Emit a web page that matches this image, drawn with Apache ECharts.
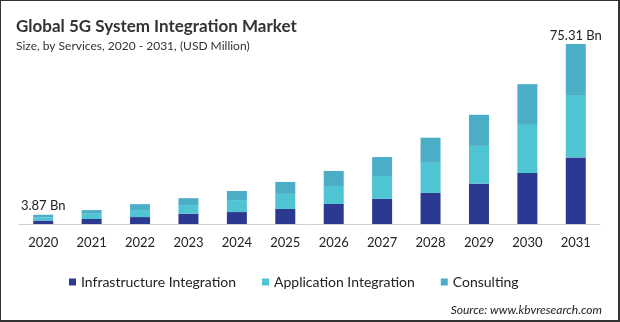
<!DOCTYPE html>
<html>
<head>
<meta charset="utf-8">
<script src="https://cdn.jsdelivr.net/npm/echarts@6/dist/echarts.min.js"></script>
<style>
html,body{margin:0;padding:0;background:#fff;}
#chart{width:620px;height:322px;}
</style>
</head>
<body>
<div id="chart"></div>
<script>
const years = ['2020','2021','2022','2023','2024','2025','2026','2027','2028','2029','2030','2031'];
const infrastructure = [1.45, 2.1, 2.9, 4.3, 5.0, 6.3, 8.4, 10.5, 13.0, 16.9, 21.3, 27.8];
const application   = [1.33, 2.2, 2.9, 3.6, 5.0, 6.3, 7.5, 9.6, 12.6, 15.8, 20.5, 26.2];
const consulting    = [1.09, 1.5, 2.5, 2.9, 3.8, 5.0, 6.3, 7.9, 10.5, 13.0, 16.7, 21.31];
const totalLabels = {0: '3.87 Bn', 11: '75.31 Bn'};
const seriesNames = ['Infrastructure Integration', 'Application Integration', 'Consulting'];
const colors = ['#2b3990', '#4fc4d2', '#4badc6'];
const font = 'Lato, "Open Sans", sans-serif';

const chart = echarts.init(document.getElementById('chart'), null, {renderer: 'canvas'});
const values = [infrastructure, application, consulting];
const series = values.map((arr, i) => ({
  name: seriesNames[i],
  type: 'bar',
  stack: 'total',
  barWidth: 20,
  itemStyle: {color: colors[i]},
  data: arr.map((v, j) => {
    const d = {value: v};
    if (i === 2 && totalLabels[j]) {
      d.label = {show: true, position: 'top', distance: 2, formatter: totalLabels[j],
        color: '#222', fontSize: 13, fontFamily: font};
    }
    return d;
  })
}));

chart.setOption({
  animation: false,
  color: colors,
  title: [{
    text: 'Global 5G System Integration Market',
    left: 11, top: 13,
    textStyle: {fontSize: 17, fontWeight: 'bold', color: '#333', fontFamily: font}
  }, {
    text: 'Size, by Services, 2020 - 2031, (USD Million)',
    left: 11, top: 35,
    textStyle: {fontSize: 12, fontWeight: 'normal', color: '#333', fontFamily: font}
  }, {
    text: 'Source: www.kbvresearch.com',
    right: 13, top: 299,
    textStyle: {fontSize: 12, fontStyle: 'italic', fontWeight: 'normal', color: '#222', fontFamily: font}
  }],
  legend: {
    left: 64, top: 270,
    itemWidth: 7, itemHeight: 7, itemGap: 26,
    icon: 'rect',
    textStyle: {fontSize: 14, color: '#222', fontFamily: font},
    data: seriesNames
  },
  grid: {left: 19, right: 20, top: 32.8, bottom: 98, containLabel: false},
  xAxis: {
    type: 'category',
    data: years,
    axisLine: {lineStyle: {color: '#d0d0d0', width: 1}},
    axisTick: {show: false},
    axisLabel: {color: '#222', fontSize: 13, margin: 12, fontFamily: font}
  },
  yAxis: {
    type: 'value', min: 0, max: 80, show: false,
    splitLine: {show: false}
  },
  graphic: [
    {type: 'line', shape: {x1: 0.5, y1: 0, x2: 0.5, y2: 322}, style: {stroke: '#333', lineWidth: 1}},
    {type: 'line', shape: {x1: 0, y1: 0.5, x2: 620, y2: 0.5}, style: {stroke: '#333', lineWidth: 1}},
    {type: 'line', shape: {x1: 619, y1: 0, x2: 619, y2: 322}, style: {stroke: '#333', lineWidth: 2}},
    {type: 'line', shape: {x1: 0, y1: 321, x2: 620, y2: 321}, style: {stroke: '#333', lineWidth: 2}}
  ],
  series: series
});
</script>
</body>
</html>
